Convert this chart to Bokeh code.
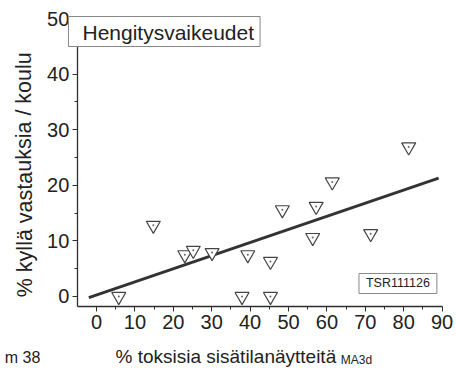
from bokeh.plotting import figure
from bokeh.models import Range1d, Label, FixedTicker
from bokeh.embed import file_html
from bokeh.resources import INLINE

# ---- data ----
x_pct = [5.8, 14.8, 23.0, 25.2, 30.1, 37.9, 39.4, 45.3, 45.3, 48.4, 56.3, 57.2, 61.4, 71.4, 81.3]
y_pct = [0.0, 12.8, 7.5, 8.3, 7.9, 0.0, 7.5, 6.3, 0.0, 15.6, 10.6, 16.2, 20.6, 11.3, 26.9]
fit_x = [-2.0, 89.1]
fit_y = [-0.2, 21.3]
x_ticks = [0, 10, 20, 30, 40, 50, 60, 70, 80, 90]
y_ticks = [0, 10, 20, 30, 40, 50]
x_minor = [5, 15, 25, 35, 45, 55, 65, 75, 85]
y_minor = [5, 15, 25, 35, 45]
title_text = "Hengitysvaikeudet"
code_text = "TSR111126"
x_label = "% toksisia sisätilanäytteitä"
x_label_sub = "MA3d"
y_label = "% kyllä vastauksia / koulu"
corner_text = "m 38"

FONT = "Liberation Sans"
INK = "#2e2e2e"
TXT = "#222222"

# The frame spans the whole canvas; the axes are pinned at fixed data locations
p = figure(width=456, height=371, output_backend="svg", toolbar_location=None,
           x_range=Range1d(-25.0, 93.75), y_range=Range1d(-13.49, 53.24),
           min_border=0)
p.outline_line_color = None
p.xgrid.visible = False
p.ygrid.visible = False
p.background_fill_color = "white"
p.border_fill_color = "white"

xa = p.xaxis[0]
ya = p.yaxis[0]
xa.fixed_location = -1.8
ya.fixed_location = -5.0
xa.bounds = (-5.0, 90.2)
ya.bounds = (-1.8, 50.0)

for ax, ticks, minor in ((xa, x_ticks, x_minor), (ya, y_ticks, y_minor)):
    ax.ticker = FixedTicker(ticks=ticks, minor_ticks=minor)
    ax.axis_line_color = INK
    ax.axis_line_width = 1.3
    ax.major_tick_line_color = INK
    ax.minor_tick_line_color = INK
    ax.major_tick_in = 0
    ax.major_tick_out = 5
    ax.minor_tick_in = 0
    ax.minor_tick_out = 3
    ax.major_label_text_font = FONT
    ax.major_label_text_font_size = "20px"
    ax.major_label_text_color = TXT
    ax.major_label_standoff = 3

# regression line
p.line(fit_x, fit_y, line_color="#333333", line_width=3)

# points
p.scatter(x_pct, y_pct, marker="inverted_triangle", size=14,
          fill_color="white", line_color="#444444", line_width=1.2)
p.scatter(x_pct, y_pct, marker="circle", size=2, fill_color="#666666", line_color=None)

# title box (anchor = top-left corner of the box)
p.add_layout(Label(x=-7.3, y=50.36, text=title_text, text_font=FONT, text_font_size="21px",
                   text_color=TXT, text_align="left", text_baseline="top",
                   background_fill_color="white", border_line_color="#888888",
                   border_line_width=1, padding=dict(left=14, right=6, top=4, bottom=3)))

# code box
p.add_layout(Label(x=78.5, y=2.34, text=code_text, text_font=FONT, text_font_size="12.5px",
                   text_color=TXT, text_align="center", text_baseline="middle",
                   background_fill_color="white", border_line_color="#888888",
                   border_line_width=1, padding=dict(left=7, right=7, top=3, bottom=3)))

# axis titles
p.add_layout(Label(x=-18.75, y=21.9, text=y_label, angle=1.5708, text_font=FONT,
                   text_font_size="21.5px", text_color=TXT,
                   text_align="center", text_baseline="middle"))
p.add_layout(Label(x=4.95, y=-8.9, text=x_label, text_font=FONT,
                   text_font_size="19px", text_color=TXT,
                   text_align="left", text_baseline="top"))
p.add_layout(Label(x=63.6, y=-10.1, text=x_label_sub, text_font=FONT,
                   text_font_size="12px", text_color=TXT,
                   text_align="left", text_baseline="top"))
p.add_layout(Label(x=-23.9, y=-9.4, text=corner_text, text_font=FONT,
                   text_font_size="16px", text_color=TXT,
                   text_align="left", text_baseline="top"))

open("out.html", "w").write(file_html(p, INLINE))
